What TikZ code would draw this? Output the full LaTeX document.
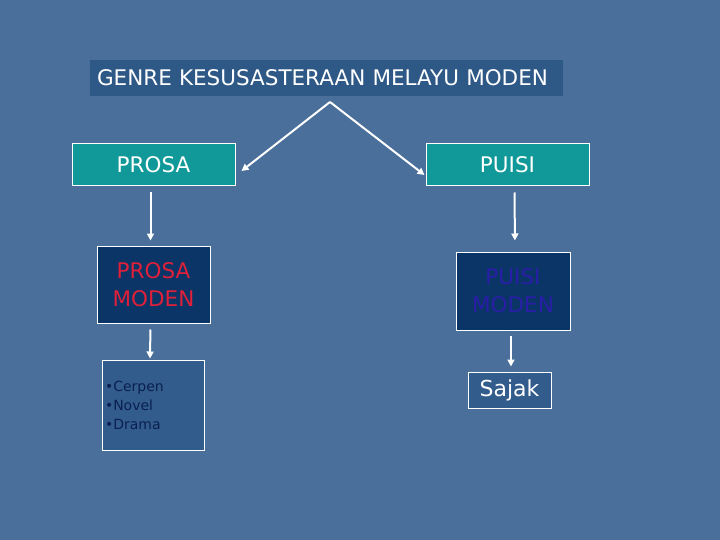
\documentclass[tikz,border=0pt]{standalone}
\usepackage{fontspec}
\setmainfont{DejaVu Sans}
\usetikzlibrary{arrows.meta}
\definecolor{bg}{HTML}{4A6F9A}
\definecolor{titlefill}{HTML}{2E5886}
\definecolor{teal}{HTML}{11999A}
\definecolor{navy}{HTML}{0A3566}
\definecolor{redtxt}{HTML}{E0203A}
\definecolor{bluetxt}{HTML}{2A1EA8}
\definecolor{listfill}{HTML}{325C8C}
\definecolor{listtxt}{HTML}{0A2050}
\begin{document}
\begin{tikzpicture}[x=1pt,y=-1pt,
  box/.style={draw=white,line width=1pt,inner sep=0pt,align=center},
  arr/.style={draw=white,line width=2pt,-{Triangle[length=7pt,width=7pt]}},
  big/.style={font=\fontsize{21.5}{28}\selectfont}]
\fill[bg] (0,0) rectangle (720,540);
\useasboundingbox (0,0) rectangle (720,540);
% title
\node[fill=titlefill,inner xsep=7pt,inner ysep=0pt,text width=459pt,align=left,minimum height=36pt,text=white,font=\fontsize{21.5}{26}\selectfont,anchor=center] (title) at (326.5,78) {GENRE KESUSASTERAAN MELAYU MODEN};
\coordinate (apex) at (330,102);
% level 1
\node[box,fill=teal,text=white,minimum width=163pt,minimum height=42pt,big] (prosa) at (153.5,165) {PROSA};
\node[box,fill=teal,text=white,minimum width=163pt,minimum height=42pt,big] (puisi) at (507.5,165) {PUISI};
% level 2
\node[box,fill=navy,text=redtxt,minimum width=113pt,minimum height=77pt,big] (pmod) at (153.5,284.5) {PROSA\\MODEN};
\node[box,fill=navy,text=bluetxt,minimum width=114pt,minimum height=78pt,big] (umod) at (513,291) {PUISI\\MODEN};
% level 3
\node[box,fill=listfill,text=listtxt,minimum width=102pt,minimum height=90pt,align=left,text width=96pt,font=\fontsize{14}{19}\selectfont] (list) at (153,405) {\textbullet Cerpen\\\textbullet Novel\\\textbullet Drama};
\node[box,fill=listfill,text=white,minimum width=83pt,minimum height=36pt,font=\fontsize{22}{26}\selectfont] (sajak) at (509.5,390) {Sajak};
% connectors
\draw[arr] (apex) -- ([xshift=6pt,yshift=-6pt]prosa.east);
\draw[arr] (apex) -- ([xshift=-1pt,yshift=-10pt]puisi.west);
\draw[arr,shorten <=6pt,shorten >=5pt] ([xshift=-3pt]prosa.south) -- ([xshift=-3pt]pmod.north);
\draw[arr,shorten <=6pt,shorten >=11pt] ([xshift=7pt]puisi.south) -- ([xshift=2pt]umod.north);
\draw[arr,shorten <=6pt,shorten >=1pt] ([xshift=-3pt]pmod.south) -- ([xshift=-3pt]list.north);
\draw[arr,shorten <=5pt,shorten >=5pt] ([xshift=-2pt]umod.south) -- ([xshift=1.5pt]sajak.north);
\end{tikzpicture}
\end{document}
